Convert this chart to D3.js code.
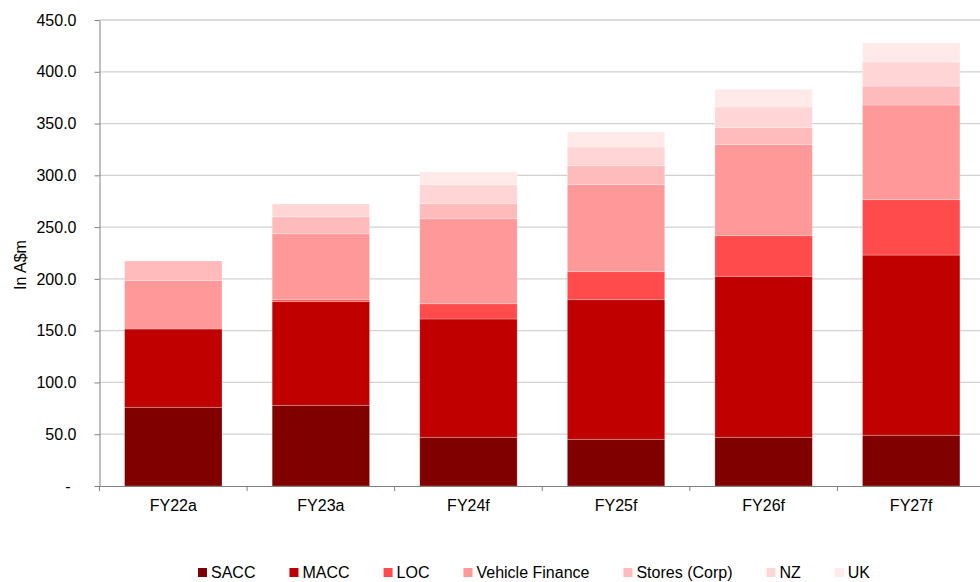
<!DOCTYPE html>
<html>
<head>
<meta charset="utf-8">
<script src="https://cdn.jsdelivr.net/npm/d3@7"></script>
<style>
  body { margin: 0; background: #fff; }
  svg { display: block; font-family: "Liberation Sans", Arial, sans-serif; }
</style>
</head>
<body>
<div id="chart"></div>
<script>
// chart data (A$m)
var categories = ['FY22a', 'FY23a', 'FY24f', 'FY25f', 'FY26f', 'FY27f'];
var seriesNames = ['SACC', 'MACC', 'LOC', 'Vehicle Finance', 'Stores (Corp)', 'NZ', 'UK'];

var sacc           = [76.0, 77.9, 47.0, 45.1, 47.0, 49.0];
var macc           = [75.6, 100.1, 114.3, 134.8, 155.5, 174.0];
var loc            = [0.0, 1.9, 14.7, 27.1, 39.2, 53.5];
var vehicleFinance = [46.7, 63.7, 82.1, 84.0, 87.9, 91.4];
var storesCorp     = [19.0, 16.4, 14.5, 18.3, 16.4, 18.3];
var nz             = [0.0, 12.3, 18.4, 18.0, 20.0, 23.2];
var uk             = [0.0, 0.0, 12.2, 14.5, 17.0, 18.4];

var yTicks = [0, 50, 100, 150, 200, 250, 300, 350, 400, 450];

var colors = ['#800000', '#c00000', '#ff4b4b', '#ff9999', '#ffbbbb', '#ffd5d5', '#ffe9e9'];

var global_width = 980,
    global_height = 582;

var margin = {top: 20, right: -5, bottom: 96, left: 99.5};

var width = global_width - margin.left - margin.right,
    height = global_height - margin.top - margin.bottom;

// build table for d3.stack
var allSeries = [sacc, macc, loc, vehicleFinance, storesCorp, nz, uk];
var table = categories.map(function(c, i){
    var row = {category: c};
    seriesNames.forEach(function(k, j){ row[k] = allSeries[j][i]; });
    return row;
});

var stacked = d3.stack().keys(seriesNames)(table);

var svg = d3.select('#chart')
    .append('svg')
    .attr('width', global_width)
    .attr('height', global_height);

var plot = svg.append('g')
    .attr('transform', 'translate(' + margin.left + ',' + margin.top + ')');

//Scales
var xScale = d3.scaleBand()
    .domain(categories)
    .range([0, width])
    .paddingInner(0.34)
    .paddingOuter(0.17);

var yScale = d3.scaleLinear()
    .domain([0, 450])
    .range([height, 0]);

//Gridlines
plot.append('g')
    .selectAll('line')
    .data(yTicks.filter(function(d){ return d > 0; }))
    .enter()
    .append('line')
    .attr('x1', 0)
    .attr('x2', global_width - margin.left)
    .attr('y1', function(d){ return yScale(d); })
    .attr('y2', function(d){ return yScale(d); })
    .attr('stroke', '#d2d2d2')
    .attr('stroke-width', 1.3);

//Bars
plot.append('g')
    .selectAll('g')
    .data(stacked)
    .enter()
    .append('g')
    .attr('fill', function(d, i){ return colors[i]; })
    .selectAll('rect')
    .data(function(d){ return d; })
    .enter()
    .append('rect')
    .attr('x', function(d){ return xScale(d.data.category); })
    .attr('y', function(d){ return yScale(d[1]); })
    .attr('width', xScale.bandwidth())
    .attr('height', function(d){ return yScale(d[0]) - yScale(d[1]); })
    .attr('stroke', '#fff')
    .attr('stroke-opacity', 0.3)
    .attr('stroke-width', 0.8);

//Y axis
var yAxis = d3.axisLeft(yScale)
    .tickValues(yTicks)
    .tickSizeInner(5)
    .tickSizeOuter(0)
    .tickPadding(18)
    .tickFormat(function(d){ return d === 0 ? '-' : d3.format('.1f')(d); });

var yG = plot.append('g').call(yAxis);
yG.select('.domain').attr('stroke', '#808080');
yG.selectAll('.tick line').attr('stroke', '#808080');
yG.selectAll('.tick text')
    .attr('font-size', '16px')
    .attr('font-family', '"Liberation Sans", Arial, sans-serif')
    .attr('fill', '#000')
    .filter(function(d){ return d === 0; })
    .attr('x', -29);

//X axis, labels centred, ticks at band boundaries
var xAxis = d3.axisBottom(xScale)
    .tickSize(0)
    .tickSizeOuter(0)
    .tickPadding(14);

var xG = plot.append('g')
    .attr('transform', 'translate(0,' + height + ')')
    .call(xAxis);
xG.select('.domain').attr('stroke', '#808080');
xG.selectAll('.tick text')
    .attr('font-size', '16px')
    .attr('font-family', '"Liberation Sans", Arial, sans-serif')
    .attr('fill', '#000');

xG.selectAll('line.boundary')
    .data(categories)
    .enter()
    .append('line')
    .attr('class', 'boundary')
    .attr('x1', function(d){ return xScale(d) - xScale.step() * xScale.paddingInner() / 2; })
    .attr('x2', function(d){ return xScale(d) - xScale.step() * xScale.paddingInner() / 2; })
    .attr('y1', 0)
    .attr('y2', 5)
    .attr('stroke', '#808080');

//Y axis title
svg.append('text')
    .attr('transform', 'translate(26,265) rotate(-90)')
    .attr('text-anchor', 'middle')
    .attr('font-size', '16px')
    .attr('fill', '#000')
    .text('In A$m');

//Legend
var legend = svg.append('g').attr('id', 'legend');
var lx = 198;
seriesNames.forEach(function(name, i){
    var item = legend.append('g').attr('transform', 'translate(' + lx + ',568)');
    item.append('rect')
        .attr('width', 9)
        .attr('height', 9)
        .attr('fill', colors[i]);
    var t = item.append('text')
        .attr('x', 13)
        .attr('y', 10)
        .attr('font-size', '16px')
        .attr('fill', '#000')
        .text(name);
    lx += 13 + t.node().getComputedTextLength() + 34;
});
</script>
</body>
</html>
